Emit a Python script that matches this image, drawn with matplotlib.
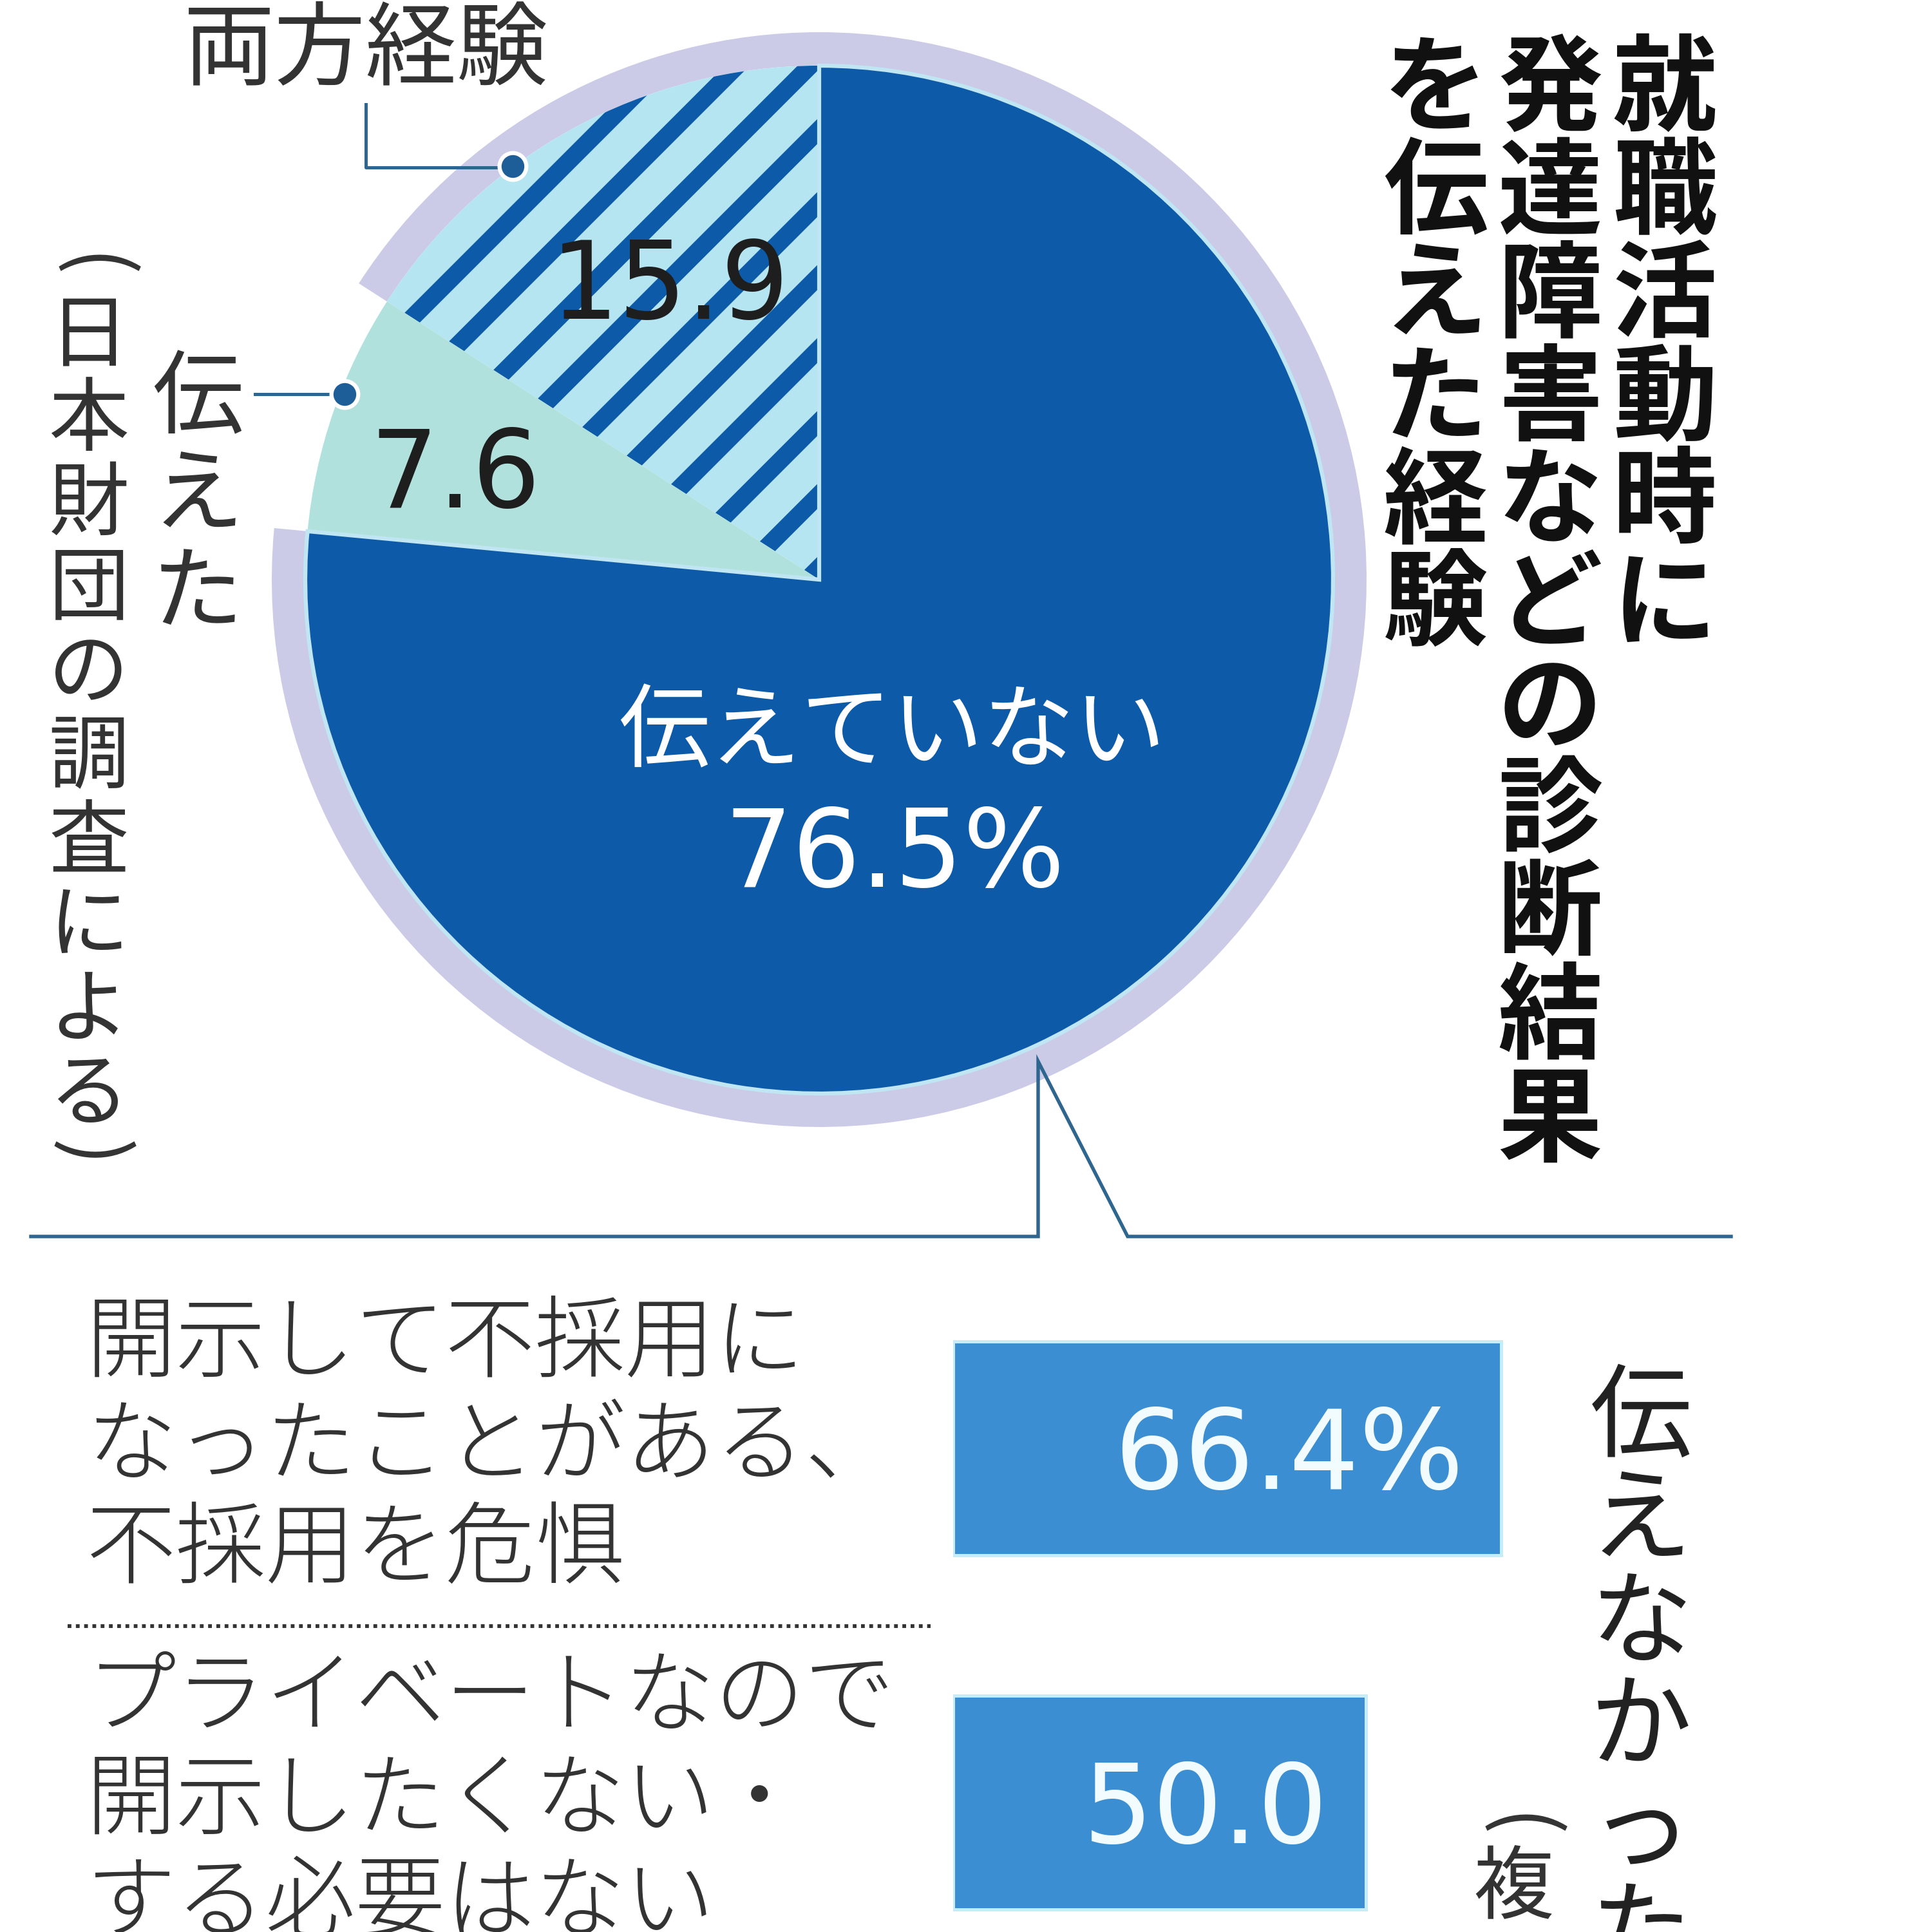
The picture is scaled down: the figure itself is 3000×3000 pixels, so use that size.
import matplotlib
matplotlib.use("Agg")
import matplotlib.pyplot as plt
import numpy as np

# hatch spacing follows the dpi, so sizes below are given for 300 dpi and scaled
DPI = 340
S = 300 / DPI

plt.rcParams["font.family"] = ["Noto Sans CJK JP", "DejaVu Sans"]
plt.rcParams["hatch.linewidth"] = 5.8

# pie: experience of disclosing the diagnosis while job hunting
pie_labels = ["両方経験", "伝えた", "伝えていない"]
pie_values = [15.9, 7.6, 76.5]
pie_value_text = ["15.9", "7.6", "76.5%"]

# bars: reasons for not disclosing (multiple answers)
reason_labels = ["開示して不採用に\nなったことがある、\n不採用を危惧",
                 "プライベートなので\n開示したくない・\nする必要はない"]
reason_values = [66.4, 50.0]
reason_value_text = ["66.4%", "50.0"]

title_cols = ["就職活動時に", "発達障害などの診断結果", "を伝えた経験"]
source = "日本財団の調査による"
side_title = "伝えなかった"
side_note = "複"

DARK = "#0c5aa8"
HATCH_BG = "#b5e5f1"
AQUA = "#b1e1dc"
RING = "#cbcbe7"
BAR = "#3b8ed2"
LINE = "#2f6690"
DOT = "#1d5e98"
TEXT = "#333333"
NUM = "DejaVu Sans"

W = H = 3000
fig = plt.figure(figsize=(W / DPI, H / DPI), dpi=DPI)
ax = fig.add_axes([0, 0, 1, 1])


def Y(y):
    # picture rows run downward
    return H - y


def vtext(x, y0, s, pitch, **kw):
    for i, ch in enumerate(s):
        ax.text(x, Y(y0 + i * pitch), ch, ha="center", va="center", **kw)


# ---- pie ----
cx, cy, r = 1272, 900, 798
ax.pie(pie_values, colors=[RING, "none", RING], startangle=90,
       radius=850, center=(cx, Y(cy)),
       wedgeprops=dict(width=52, linewidth=0))
wedges, _ = ax.pie(pie_values, colors=[HATCH_BG, AQUA, DARK], startangle=90,
                   radius=r, center=(cx, Y(cy)), hatch=["/", "", ""],
                   wedgeprops=dict(linewidth=0))
wedges[0].set_edgecolor(DARK)
wedges[2].set_edgecolor("#bfe6f2")
wedges[2].set_linewidth(1.5 * S)

ax.text(1040, Y(495), pie_value_text[0], fontsize=40 * S, family=NUM,
        color="#1e1e1e", ha="center", va="baseline")
ax.text(707, Y(788), pie_value_text[1], fontsize=40 * S, family=NUM,
        color="#1e1e1e", ha="center", va="baseline")
ax.text(1385, Y(1140), pie_labels[2], fontsize=34 * S, color="white",
        ha="center", va="center")
ax.text(1389, Y(1377), pie_value_text[2], fontsize=40 * S, family=NUM,
        color="white", ha="center", va="baseline")

# leader labels
ax.text(568, Y(80), pie_labels[0], fontsize=34 * S, color=TEXT,
        ha="center", va="center")
ax.plot([568, 568, 796], [Y(162), Y(260), Y(260)], color=LINE, lw=1.2 * S)
ax.plot(796, Y(258), "o", ms=10 * S, mfc=DOT, mec="white", mew=1.5 * S)

vtext(307, 622, pie_labels[1], 151, fontsize=34 * S, color=TEXT)
ax.plot([396, 535], [Y(612), Y(612)], color=LINE, lw=1.2 * S)
ax.plot(535, Y(612), "o", ms=10 * S, mfc=DOT, mec="white", mew=1.5 * S)

# source note
ax.text(138, Y(415), "(", rotation=-90, fontsize=30 * S, color=TEXT,
        ha="center", va="center")
vtext(138, 524, source, 131, fontsize=30 * S, color=TEXT)
ax.text(138, Y(1792), ")", rotation=-90, fontsize=30 * S, color=TEXT,
        ha="center", va="center")

# title
for x, col in zip([2585, 2407, 2229], title_cols):
    vtext(x, 143, col, 160, fontsize=39 * S, fontweight="bold",
          color="#111111")

# divider with callout from the 伝えていない slice
ax.plot([48, 1612, 1612, 1751, 2688],
        [Y(1920), Y(1920), Y(1648), Y(1920), Y(1920)],
        color=LINE, lw=1.3 * S, solid_joinstyle="miter")

# ---- bars ----
bar_top, bar_pitch = 2249, 550
axb = fig.add_axes([1480 / W, (H - (bar_top + 1.5 * bar_pitch)) / H,
                    1282 / W, 2 * bar_pitch / H])
pos = np.arange(len(reason_values))
axb.barh(pos, reason_values, height=0.604, color=BAR,
         edgecolor="#c6ecf7", linewidth=1.2 * S)
axb.set_xlim(0, 100)
axb.set_ylim(1.5, -0.5)
axb.axis("off")
for i, (v, t) in enumerate(zip(reason_values, reason_value_text)):
    axb.annotate(t, (v, i), xytext=(-14 * S, -15 * S),
                 textcoords="offset points", ha="right", va="baseline",
                 fontsize=41 * S, family=NUM, color="#f2fcff")

for i, lab in enumerate(reason_labels):
    yc = bar_top + i * bar_pitch
    for k, line in enumerate(lab.split("\n")):
        ax.text(134, Y(yc + (k - 1) * 160), line, fontsize=33.5 * S,
                fontweight="light", color=TEXT, ha="left", va="center")

ax.plot([105, 1445], [Y(2525), Y(2525)], color="#333333", lw=1.4 * S,
        linestyle=(0, (1, 1.2)))

# side title
vtext(2548, 2205, side_title, 160, fontsize=38 * S, color="#222222")
ax.text(2353, Y(2837), "(", rotation=-90, fontsize=30 * S, color=TEXT,
        ha="center", va="center")
ax.text(2350, Y(2935), side_note, fontsize=30 * S, color=TEXT,
        ha="center", va="center")

ax.set_xlim(0, W)
ax.set_ylim(0, H)
ax.set_aspect("equal")
ax.axis("off")

fig.savefig("out.png", dpi=DPI, facecolor="white")
